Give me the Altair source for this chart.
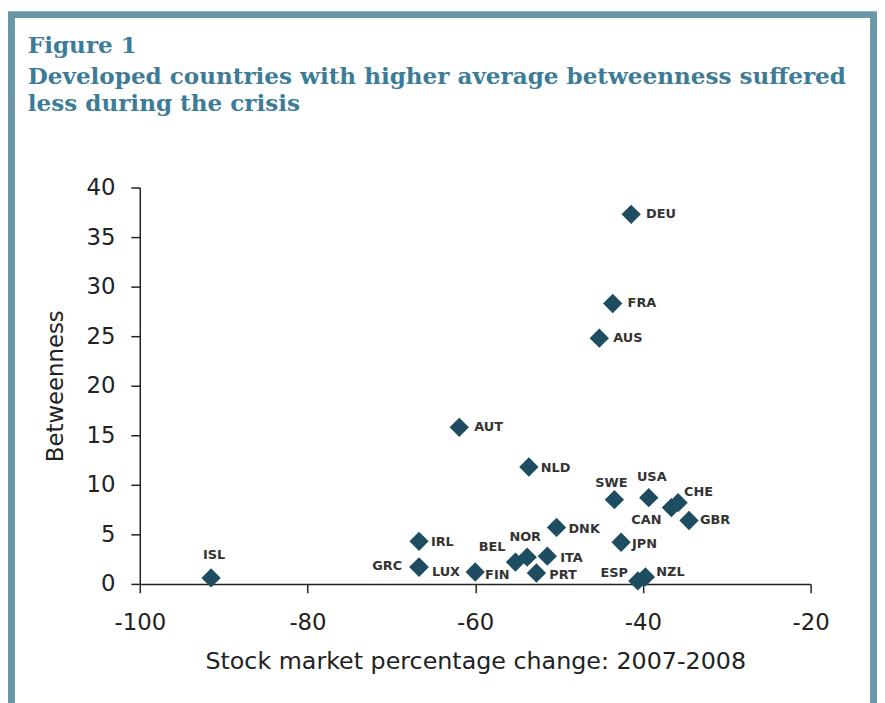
import altair as alt
import pandas as pd

# ---- data ----
countries = ["ISL", "GRC", "LUX", "IRL", "FIN", "BEL", "NOR", "PRT", "ITA", "DNK",
             "NLD", "AUT", "AUS", "FRA", "DEU", "SWE", "JPN", "ESP", "NZL", "USA",
             "CAN", "CHE", "GBR"]
stock_change = [-91.5, -66.7, -66.7, -66.7, -60.0, -55.2, -53.8, -52.7, -51.4, -50.3,
                -53.6, -61.9, -45.2, -43.6, -41.4, -43.4, -42.6, -40.6, -39.7, -39.3,
                -36.6, -35.8, -34.5]
betweenness = [0.6, 1.7, 1.7, 4.3, 1.2, 2.2, 2.7, 1.1, 2.8, 5.7,
               11.8, 15.8, 24.8, 28.3, 37.3, 8.5, 4.2, 0.3, 0.7, 8.7,
               7.7, 8.2, 6.4]
x_ticks = [-100, -80, -60, -40, -20]
y_ticks = [0, 5, 10, 15, 20, 25, 30, 35, 40]

title_head = "Figure 1"
title_lines = ["Developed countries with higher average betweenness suffered",
               "less during the crisis"]
x_title = "Stock market percentage change: 2007-2008"
y_title = "Betweenness"

# ---- label placement (layout only): dx, dy in px, text alignment ----
label_place = {
    "ISL": (3, -23, "center"), "GRC": (-17, -1, "right"), "LUX": (13, 5, "left"),
    "IRL": (12, 1, "left"), "FIN": (10, 3, "left"), "BEL": (-10, -15, "right"),
    "NOR": (-2, -20, "center"), "PRT": (13, 2, "left"), "ITA": (13, 2, "left"),
    "DNK": (12, 2, "left"), "NLD": (12, 1, "left"), "AUT": (15, 0, "left"),
    "AUS": (14, 0, "left"), "FRA": (15, 0, "left"), "DEU": (15, 0, "left"),
    "SWE": (-3, -17, "center"), "JPN": (11, 2, "left"), "ESP": (-10, -8, "right"),
    "NZL": (11, -5, "left"), "USA": (3, -21, "center"), "CAN": (-10, 13, "right"),
    "CHE": (6, -11, "left"), "GBR": (11, 0, "left"),
}

df = pd.DataFrame({"country": countries, "change": stock_change, "betweenness": betweenness})
df["ldx"] = [label_place[c][0] for c in countries]
df["ldy"] = [label_place[c][1] for c in countries]
df["lalign"] = [label_place[c][2] for c in countries]

W, H = 677, 400
PAD_L, PAD_T = 133, 178
TOTAL_W, TOTAL_H = 877, 695

BORDER = "#6a97a6"
TITLE_C = "#3d7c96"
POINT_C = "#1e4d61"
AXIS_C = "#222222"
FONT = "DejaVu Sans"
TFONT = "DejaVu Serif"

x_enc = alt.X("change:Q",
              scale=alt.Scale(domain=[-100, -20], nice=False, zero=False),
              axis=alt.Axis(values=x_ticks, title=x_title, grid=False,
                            tickSize=9, labelPadding=19, titlePadding=15,
                            titleFontSize=24,
                            labelExpr="datum.value < 0 ? '-' + abs(datum.value) : '' + datum.value",
                            labelFlush=False))
y_enc = alt.Y("betweenness:Q",
              scale=alt.Scale(domain=[0, 40], nice=False),
              axis=alt.Axis(values=y_ticks, title=y_title, grid=False,
                            tickSize=9, labelPadding=16, titlePadding=19))

points = alt.Chart(df).mark_point(shape="diamond", filled=True, size=380,
                                  color=POINT_C, opacity=1).encode(x=x_enc, y=y_enc)

labels = alt.Chart(df).mark_text(
    font=FONT, fontWeight="bold", fontSize=13, color="#333333", baseline="middle",
    dx=alt.expr("datum.ldx"), dy=alt.expr("datum.ldy"), align=alt.expr("datum.lalign"),
).encode(x="change:Q", y="betweenness:Q", text="country:N")

one = pd.DataFrame({"k": [0]})

frame = alt.Chart(one).mark_rect(filled=False, stroke=BORDER, strokeWidth=7, clip=False).encode(
    x=alt.value(3.5 - PAD_L), x2=alt.value(TOTAL_W - 3.5 - PAD_L),
    y=alt.value(3.5 - PAD_T), y2=alt.value(TOTAL_H + 60 - PAD_T))

head = alt.Chart(one).mark_text(
    text=title_head, font=TFONT, fontWeight="bold", fontSize=23.3,
    color=TITLE_C, align="left", baseline="alphabetic", clip=False,
).encode(x=alt.value(28 - 8 - PAD_L), y=alt.value(50 - 8 - PAD_T))

title = alt.Chart(one).mark_text(
    text=title_lines, font=TFONT, fontWeight="bold", fontSize=23.3,
    lineHeight=27, color=TITLE_C, align="left", baseline="alphabetic", clip=False,
).encode(x=alt.value(28 - 8 - PAD_L), y=alt.value(81.5 - 8 - PAD_T))

chart = alt.layer(frame, head, title, points, labels).properties(
    width=W, height=H,
    autosize=alt.AutoSizeParams(type="none"),
    padding={"left": PAD_L, "top": PAD_T,
             "right": TOTAL_W - PAD_L - W, "bottom": TOTAL_H - PAD_T - H},
    background="white",
).configure_view(stroke=None).configure_axis(
    labelFont=FONT, titleFont=FONT, labelFontSize=23, titleFontSize=23,
    titleFontWeight="normal", labelColor=AXIS_C, titleColor=AXIS_C,
    domainColor=AXIS_C, tickColor=AXIS_C, domainWidth=1.5, tickWidth=1.5,
)

chart.save("out.html", embed_options={"renderer": "svg", "actions": False})
